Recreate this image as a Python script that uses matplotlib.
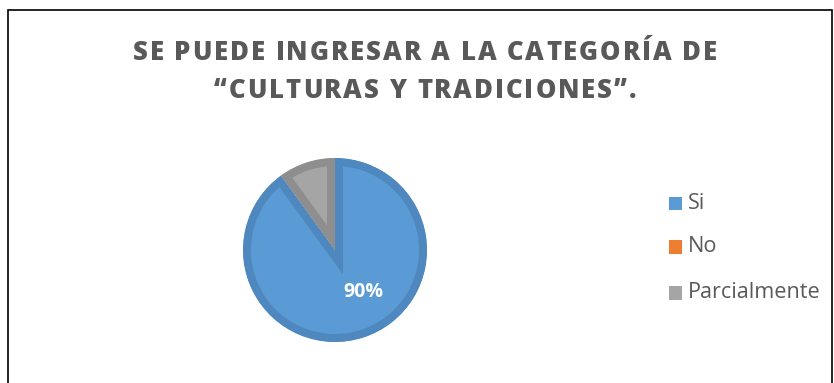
import matplotlib
matplotlib.use("Agg")
import matplotlib.pyplot as plt
from matplotlib.patches import Rectangle
from matplotlib.lines import Line2D
from matplotlib.font_manager import findfont, FontProperties
from matplotlib.ft2font import FT2Font

# Survey answers
categories = ["Si", "No", "Parcialmente"]
values = [90, 0, 10]
fill_colors = ["#5B9BD5", "#ED7D31", "#A5A5A5"]
edge_colors = ["#4F88BE", "#C96A29", "#8E8E8E"]
title_lines = ["SE PUEDE INGRESAR A LA CATEGORÍA DE", "“CULTURAS Y TRADICIONES”."]

W, H = 834, 383
DPI = 100
fig = plt.figure(figsize=(W / DPI, H / DPI), dpi=DPI)
ax = fig.add_axes([0, 0, 1, 1])

font = "Open Sans"
text_grey = "#595959"


def advances(s, family, size, weight):
    fp = FontProperties(family=family, weight=weight)
    ft = FT2Font(findfont(fp))
    ft.set_size(size, DPI)
    return [ft.load_char(ord(ch)).linearHoriAdvance / 65536.0 for ch in s]


def spaced_text(ax, xc, y, s, family, size, tracking, weight="normal", **kw):
    """Draw a centred line of text with extra letter spacing (pixels)."""
    advs = advances(s, family, size, weight)
    total = sum(advs) + tracking * (len(s) - 1)
    x = xc - total / 2
    for ch, a in zip(s, advs):
        if ch != " ":
            ax.text(x, y, ch, ha="left", va="baseline", fontsize=size,
                    family=family, fontweight=weight, **kw)
        x += a + tracking


# Pie, clockwise from 12 o'clock, with an inner darker border on each slice
cx, cy, r = 335, H - 250, 92
wedges, _ = ax.pie(values, colors=fill_colors, startangle=90, counterclock=False,
                   center=(cx, cy), radius=r, frame=True)
ax.set_xlim(0, W)
ax.set_ylim(0, H)
ax.set_aspect("equal")
ax.axis("off")
for w, ec, v in zip(wedges, edge_colors, values):
    if v == 0:
        w.set_visible(False)
        continue
    w.set_edgecolor(ec)
    w.set_linewidth(11.5)
    w.set_clip_on(True)
    w.set_clip_path(w.get_path(), w.get_transform())

# Chart frame (open at the bottom)
frame = Line2D([8.5, 8.5, 832.5, 832.5], [0, H - 9.5, H - 9.5, 0],
               color="black", lw=1.2, solid_joinstyle="miter", clip_on=False)
ax.add_line(frame)

# Title: letter-spaced heavy caps, first line about 584 px wide
tsize, tweight = 18.5, "heavy"
nat = sum(advances(title_lines[0], font, tsize, tweight))
track = (584 - nat) / (len(title_lines[0]) - 1)
spaced_text(ax, 425, H - 59.5, title_lines[0], font, tsize, track,
            weight=tweight, color=text_grey)
spaced_text(ax, 425, H - 97.5, title_lines[1], font, tsize, track,
            weight=tweight, color=text_grey)

# Percentage label for the main slice
ax.text(363, H - 292, f"{values[0]}%", ha="center", va="center", fontsize=14,
        fontweight="bold", color="white", family=font)

# Legend
ly = [H - 203.5, H - 247, H - 293]
for lbl, col, y in zip(categories, fill_colors, ly):
    ax.add_patch(Rectangle((669, y - 6.5), 13.5, 13.5, facecolor=col, edgecolor="none"))
    ax.text(688, y, lbl, ha="left", va="center", fontsize=15.6,
            color=text_grey, family=font)

fig.savefig("out.png", dpi=DPI)
